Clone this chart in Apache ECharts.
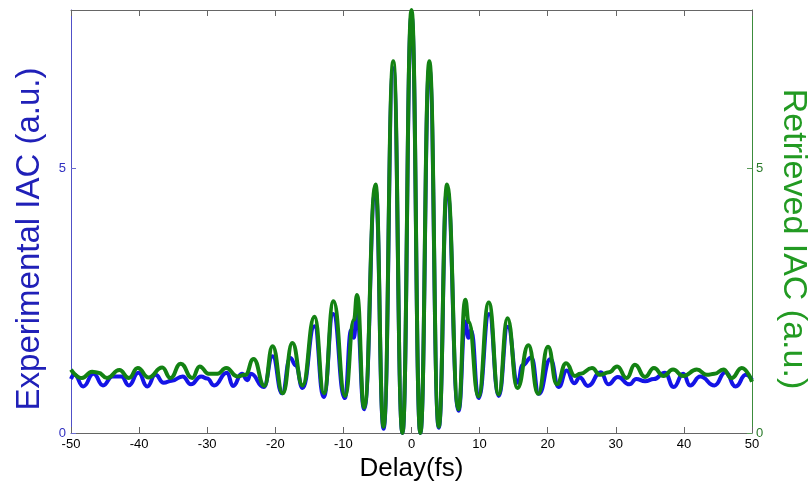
<!DOCTYPE html>
<html>
<head>
<meta charset="utf-8">
<script src="https://cdn.jsdelivr.net/npm/echarts@6/dist/echarts.min.js"></script>
<style>
html,body{margin:0;padding:0;background:#fff;}
#chart{width:809px;height:488px;}
</style>
</head>
<body>
<div id="chart"></div>
<script>
// Delay axis (fs) and IAC values
const xTicks = [-50, -40, -30, -20, -10, 0, 10, 20, 30, 40, 50];
const yTicks = [0, 5];

// Experimental IAC (blue)
const expDelay = [-50, -49.5, -48.2, -46.7, -45.3, -43.9, -42.6, -41.5, -40.1, -38.8, -37.6, -36.4, -35.2, -33.6, -32.4, -30.9, -30.0, -29.0, -27.1, -26.2, -24.9, -24.1, -23.6, -21.7, -20.4, -19.0, -17.8, -17.0, -16.0, -14.24, -12.9, -11.5, -9.8, -8.85, -8.45, -8.05, -6.95, -5.28, -4.1, -2.68, -1.33, 0, 1.3, 2.62, 4.0, 5.22, 6.9, 7.9, 8.36, 8.75, 9.85, 11.4, 12.8, 14.14, 15.6, 16.3, 17.6, 18.7, 20.4, 21.6, 22.8, 23.9, 24.7, 25.9, 27.8, 28.9, 30.3, 32.0, 33.0, 34.3, 35.6, 37.2, 38.5, 39.9, 40.9, 42.4, 44.5, 46.1, 47.6, 49.1, 50];
const expIAC = [1.02, 1.10, 0.88, 1.12, 0.90, 1.07, 1.07, 0.90, 1.14, 0.88, 1.10, 0.95, 0.99, 1.07, 0.92, 1.07, 1.03, 0.90, 1.14, 0.89, 1.12, 1.00, 1.12, 0.87, 1.45, 0.75, 1.42, 1.28, 0.85, 2.02, 0.68, 2.25, 0.66, 1.95, 1.80, 2.30, 0.45, 4.60, 0.08, 6.90, 0.00, 7.90, 0.00, 6.90, 0.10, 4.60, 0.42, 2.11, 1.80, 1.95, 0.66, 2.25, 0.70, 2.01, 0.95, 1.28, 1.43, 0.74, 1.40, 0.87, 1.18, 0.94, 1.05, 0.89, 1.15, 0.92, 1.06, 0.92, 1.02, 0.98, 1.02, 1.14, 0.87, 1.12, 0.90, 1.07, 0.90, 1.15, 0.88, 1.10, 1.00];

// Retrieved IAC (green)
const retDelay = [-50, -48.4, -46.9, -46.0, -44.7, -42.9, -41.5, -40.2, -38.6, -36.6, -35.4, -33.9, -32.2, -31.1, -29.8, -28.5, -27.2, -25.6, -24.4, -23.2, -21.6, -20.4, -18.9, -17.5, -16.0, -14.24, -12.85, -11.46, -9.74, -8.45, -8.0, -6.95, -5.28, -4.1, -2.68, -1.33, 0, 1.3, 2.62, 4.0, 5.22, 6.9, 7.9, 8.4, 9.83, 11.35, 12.8, 14.1, 15.55, 17.17, 18.6, 20.05, 21.35, 22.7, 24.0, 24.8, 26.5, 27.7, 29.0, 30.2, 31.6, 32.8, 34.3, 35.6, 37.0, 38.4, 39.9, 41.9, 43.35, 44.5, 45.8, 47.0, 48.5, 50];
const retIAC = [1.20, 1.04, 1.16, 1.14, 1.04, 1.19, 1.04, 1.23, 1.05, 1.24, 1.04, 1.31, 1.04, 1.26, 1.12, 1.12, 1.23, 1.07, 1.10, 1.40, 0.89, 1.64, 0.75, 1.70, 0.90, 2.20, 0.75, 2.49, 0.70, 2.14, 2.61, 0.48, 4.70, 0.12, 7.03, 0.00, 8.00, 0.00, 7.03, 0.12, 4.70, 0.45, 2.52, 2.10, 0.69, 2.47, 0.73, 2.17, 0.85, 1.66, 0.74, 1.63, 0.92, 1.32, 1.08, 1.12, 1.23, 1.10, 1.15, 1.26, 1.04, 1.29, 1.06, 1.23, 1.08, 1.20, 1.08, 1.20, 1.10, 1.12, 1.20, 1.04, 1.23, 0.97];

const expData = expDelay.map((d, i) => [d, expIAC[i]]);
const retData = retDelay.map((d, i) => [d, retIAC[i]]);

const FONT = 'Liberation Sans, Arial, sans-serif';
const chart = echarts.init(document.getElementById('chart'), null, {renderer: 'canvas'});
chart.setOption({
  backgroundColor: '#ffffff',
  animation: false,
  grid: {left: 71, right: 57, top: 10, bottom: 55, show: false, containLabel: false, outerBoundsMode: 'none'},
  xAxis: [{
    type: 'value', position: 'bottom', min: -50, max: 50, interval: 10,
    name: 'Delay(fs)', nameLocation: 'middle', nameGap: 20,
    nameTextStyle: {fontFamily: FONT, fontSize: 26, color: '#000'},
    axisLine: {show: true, onZero: false, lineStyle: {color: '#666', width: 1}},
    axisTick: {show: true, inside: true, length: 6, lineStyle: {color: '#666'}, customValues: xTicks},
    axisLabel: {color: '#000', fontFamily: FONT, fontSize: 13, margin: 5, customValues: xTicks},
    splitLine: {show: false}
  }, {
    type: 'value', position: 'top', min: -50, max: 50, interval: 10,
    axisLine: {show: true, onZero: false, lineStyle: {color: '#666', width: 1}},
    axisTick: {show: true, inside: true, length: 6, lineStyle: {color: '#666'}, customValues: xTicks},
    axisLabel: {show: false},
    splitLine: {show: false}
  }],
  yAxis: [{
    type: 'value', position: 'left', min: 0, max: 8, interval: 5,
    name: 'Experimental IAC (a.u.)', nameLocation: 'middle', nameGap: 25, nameRotate: 90,
    nameTextStyle: {fontFamily: FONT, fontSize: 33, color: '#2020b8', padding: [0, 35, 0, 0]},
    axisLine: {show: true, onZero: false, lineStyle: {color: '#5050c8', width: 1}},
    axisTick: {show: true, inside: true, length: 5, lineStyle: {color: '#6a6ad0'}, customValues: yTicks},
    axisLabel: {color: '#3030c0', fontFamily: FONT, fontSize: 13, margin: 5, customValues: yTicks},
    splitLine: {show: false}
  }, {
    type: 'value', position: 'right', min: 0, max: 8, interval: 5,
    name: 'Retrieved IAC (a.u.)', nameLocation: 'middle', nameGap: 24, nameRotate: -90,
    nameTextStyle: {fontFamily: FONT, fontSize: 34, color: '#229a22', padding: [0, 0, 0, 35]},
    axisLine: {show: true, onZero: false, lineStyle: {color: '#3c8c3c', width: 1}},
    axisTick: {show: true, inside: true, length: 5, lineStyle: {color: '#5a9a5a'}, customValues: yTicks},
    axisLabel: {color: '#2a7a2a', fontFamily: FONT, fontSize: 13, margin: 4, customValues: yTicks},
    splitLine: {show: false}
  }],
  series: [{
    name: 'Experimental IAC', type: 'line', xAxisIndex: 0, yAxisIndex: 0,
    data: expData, smooth: 0.5, smoothMonotone: 'x', showSymbol: false,
    lineStyle: {color: '#1414e6', width: 4}, z: 2
  }, {
    name: 'Retrieved IAC', type: 'line', xAxisIndex: 0, yAxisIndex: 1,
    data: retData, smooth: 0.5, smoothMonotone: 'x', showSymbol: false,
    lineStyle: {color: '#138213', width: 4}, z: 3
  }]
});
</script>
</body>
</html>
